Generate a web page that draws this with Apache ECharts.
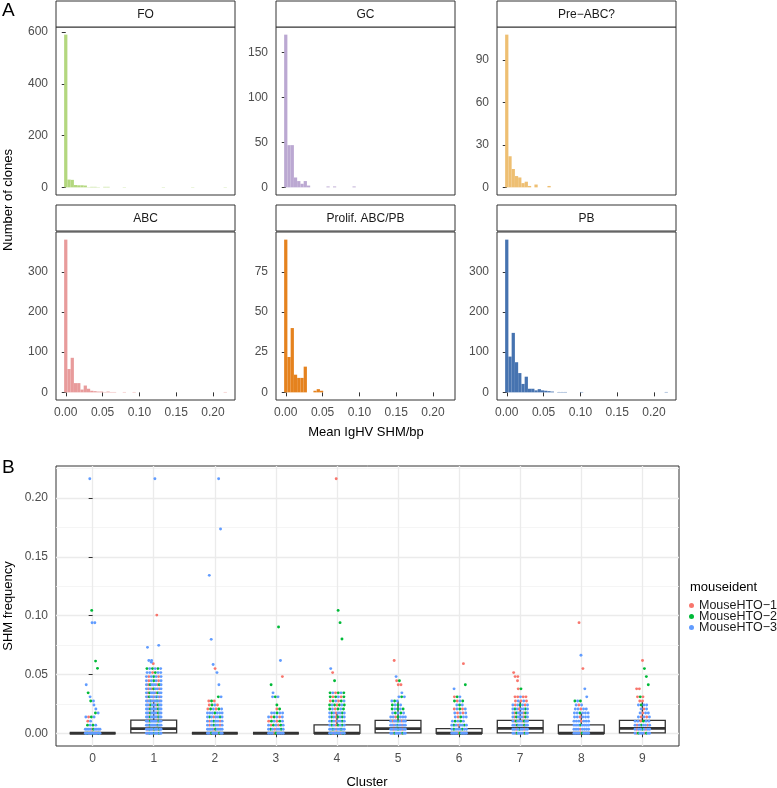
<!DOCTYPE html>
<html>
<head>
<meta charset="utf-8">
<script src="https://cdn.jsdelivr.net/npm/echarts@6/dist/echarts.min.js"></script>
<style>
html,body{margin:0;padding:0;background:#fff;}
#chart{width:777px;height:788px;}
</style>
</head>
<body>
<div id="chart"></div>
<script>
// ---------------- Panel A: histograms of mean IgHV SHM/bp ----------------
const panelNames = ['FO', 'GC', 'Pre\u2212ABC?', 'ABC', 'Prolif. ABC/PB', 'PB'];
const panelColors = ['#b3d77e', '#bba8d2', '#eebf72', '#e89b9b', '#e5821e', '#4673b0'];
const binStart = 0;
const binWidth = 0.00442;
const countsFO = [590,30,29,9,8,8,7,1,2,2, 1,0,2,2,0,0,0,0,1,0, 0,0,0,0,0,0,0,0,0,0, 1,0,0,0,0,0,0,0,0,1, 0,0,0,0,0,0,0,0,0,1];
const countsGC = [170,47,47,11,7,4,7,2,0,0, 0,0,0,1,0,1,0,0,0,0, 0,1];
const countsPreABC = [108,22,13,8,7,3,4,1,0,2, 0,0,0,1];
const countsABC = [380,58,86,23,23,7,17,9,4,3, 2,2,1,2,1,1,0,0,1,0, 0,1,0,0,0,0,0,0,0,0, 0,0,0,0,0,0,0,0,0,0, 0,0,0,0,0,0,0,0,0,1];
const countsProlif = [95,22,40,11,9,9,16,0,0,1, 2,1];
const countsPB = [380,89,148,75,48,21,39,9,9,5, 8,5,4,3,2,0,1,1,1,0, 0,0,0,1,0,0,0,0,0,0, 0,0,0,0,0,0,0,0,0,0, 0,0,0,0,0,0,0,0,0,1];
const histXTicks = [0, 0.05, 0.10, 0.15, 0.20];
const yTicksFO = [0, 200, 400, 600];
const yTicksGC = [0, 50, 100, 150];
const yTicksPreABC = [0, 30, 60, 90];
const yTicksABC = [0, 100, 200, 300];
const yTicksProlif = [0, 25, 50, 75];
const yTicksPB = [0, 100, 200, 300];

// ---------------- Panel B: SHM frequency by cluster ----------------
const clusters = [0,1,2,3,4,5,6,7,8,9];
const mouseNames = ['MouseHTO\u22121', 'MouseHTO\u22122', 'MouseHTO\u22123'];
const mouseColors = ['#F8766D', '#00BA38', '#619CFF'];
const yTicksB = [0, 0.05, 0.10, 0.15, 0.20];
const yMinorB = [0.025, 0.075, 0.125, 0.175, 0.225];
const boxLower  = [0, 0,      0, 0, 0,      0,      0,      0,      0,      0];
const boxQ1     = [0, 0.0003, 0, 0, 0,      0.0003, 0,      0.0003, 0,      0.0003];
const boxMedian = [0, 0.0040, 0, 0, 0,      0.0040, 0,      0.0042, 0,      0.0042];
const boxQ3     = [0, 0.0112, 0, 0, 0.0072, 0.0110, 0.0040, 0.0110, 0.0072, 0.0110];
const boxUpper  = [0, 0.0275, 0, 0, 0.0172, 0.0275, 0.0069, 0.0275, 0.0172, 0.0275];
// rows: [SHM frequency, n MouseHTO-1, n MouseHTO-2, n MouseHTO-3]
const cluster0 = [[0,2,3,12],[0.0034,1,1,8],[0.0069,0,2,2],[0.0103,1,0,1],[0.0138,1,1,2],[0.0172,0,1,1],[0.0206,0,0,1],[0.0241,0,0,1],[0.0275,0,1,1],[0.031,0,0,1],[0.0344,0,1,0],[0.0413,0,0,1],[0.0552,0,1,0],[0.0614,0,1,0],[0.094,0,0,2],[0.1045,0,1,0],[0.2165,0,0,1]];
const cluster1 = [[0,3,3,10],[0.0034,3,3,10],[0.0069,2,2,10],[0.0103,2,2,9],[0.0138,2,2,9],[0.0172,2,2,8],[0.0206,2,2,8],[0.0241,2,2,7],[0.0275,3,2,7],[0.031,3,2,6],[0.0344,2,2,6],[0.0378,3,1,5],[0.0413,2,2,5],[0.0447,2,1,4],[0.0482,2,1,4],[0.0516,1,1,4],[0.055,0,3,3],[0.0592,1,0,0],[0.0605,0,0,1],[0.0619,0,0,2],[0.0731,0,0,1],[0.0748,0,0,1],[0.1005,1,0,0],[0.2165,0,0,1]];
const cluster2 = [[0,2,2,8],[0.0034,1,1,8],[0.0069,2,1,5],[0.0103,2,1,5],[0.0138,1,2,5],[0.0172,0,1,6],[0.0206,2,2,2],[0.0241,2,1,1],[0.0275,2,1,0],[0.031,0,1,1],[0.0413,0,0,1],[0.0516,0,0,1],[0.055,1,0,0],[0.0585,0,0,1],[0.0799,0,0,1],[0.1343,0,0,1],[0.1737,0,0,1],[0.2165,0,0,1]];
const cluster3 = [[0,1,1,7],[0.0034,1,2,5],[0.0069,2,2,3],[0.0103,2,2,2],[0.0138,2,1,3],[0.0172,0,1,4],[0.0206,1,1,0],[0.0241,0,1,0],[0.031,0,1,2],[0.0344,0,0,1],[0.0413,0,1,0],[0.0482,1,0,0],[0.0619,0,0,1],[0.0904,0,1,0]];
const cluster4 = [[0,2,3,8],[0.0034,1,2,7],[0.0069,1,3,4],[0.0103,1,2,5],[0.0138,1,3,4],[0.0172,1,2,5],[0.0206,1,3,2],[0.0241,1,4,2],[0.0275,2,2,2],[0.031,2,3,1],[0.0344,1,3,2],[0.0447,0,1,0],[0.0516,1,0,0],[0.055,0,0,1],[0.0802,0,1,0],[0.0941,0,1,0],[0.1045,0,1,0],[0.2165,1,0,0]];
const cluster5 = [[0,2,2,8],[0.0034,2,1,8],[0.0069,2,1,7],[0.0103,2,1,6],[0.0138,1,1,5],[0.0172,0,2,3],[0.0206,0,3,2],[0.0241,0,2,2],[0.0275,0,1,2],[0.031,0,1,2],[0.0344,0,0,1],[0.0413,2,0,0],[0.0447,1,1,0],[0.0482,0,0,1],[0.0619,1,0,0]];
const cluster6 = [[0,1,1,8],[0.0034,0,2,6],[0.0069,1,2,5],[0.0103,0,2,3],[0.0138,1,1,3],[0.0172,2,0,3],[0.0206,2,1,2],[0.0241,0,1,2],[0.0275,1,2,1],[0.031,1,1,1],[0.0378,0,0,1],[0.0413,0,1,0],[0.0592,1,0,0]];
const cluster7 = [[0,2,2,8],[0.0034,2,1,7],[0.0069,2,2,7],[0.0103,2,2,6],[0.0138,2,2,5],[0.0172,2,2,5],[0.0206,1,2,5],[0.0241,2,1,4],[0.0275,3,0,2],[0.031,4,0,1],[0.0378,1,1,0],[0.0447,1,0,0],[0.0482,2,0,0],[0.0516,1,0,0]];
const cluster8 = [[0,1,1,8],[0.0034,1,0,7],[0.0069,0,1,7],[0.0103,1,0,6],[0.0138,1,0,5],[0.0172,0,1,5],[0.0206,1,0,4],[0.0241,1,0,2],[0.0275,0,2,1],[0.031,0,0,1],[0.0378,0,0,1],[0.055,1,0,0],[0.0664,0,0,1],[0.0941,1,0,0]];
const cluster9 = [[0,2,2,6],[0.0034,2,1,6],[0.0069,2,1,5],[0.0103,1,1,4],[0.0138,2,0,3],[0.0172,1,0,3],[0.0206,1,0,2],[0.0241,0,1,3],[0.0275,2,0,0],[0.031,2,1,0],[0.0378,2,0,0],[0.0413,0,1,0],[0.0482,0,1,0],[0.055,0,1,0],[0.0619,1,0,0]];

// ---------------- build ----------------
const FONT = '"Liberation Sans", Arial, Helvetica, sans-serif';
const TICK_COLOR = '#4d4d4d';
const LINE_COLOR = '#333333';
const allCounts = [countsFO, countsGC, countsPreABC, countsABC, countsProlif, countsPB];
const allYTicks = [yTicksFO, yTicksGC, yTicksPreABC, yTicksABC, yTicksProlif, yTicksPB];
const colLeft = [56, 276, 497];
const rowTop = [27, 232];
const stripTop = [1, 205];
const PW = 179, PH = 168, STRIP_H = 26;

const grids = [], xAxes = [], yAxes = [], series = [], graphics = [];
for (let i = 0; i < 6; i++) {
  const r = Math.floor(i / 3), c = i % 3;
  const bottom = r === 1;
  grids.push({left: colLeft[c], top: rowTop[r], width: PW, height: PH, show: true,
    borderColor: LINE_COLOR, borderWidth: 1, backgroundColor: '#fff'});
  const xs = allCounts[i].map((n, k) => binStart + k * binWidth);
  const xmin = binStart - binWidth / 2, xmax = 49 * binWidth + binWidth / 2;
  const xpad = (xmax - xmin) * 0.05;
  xAxes.push({type: 'value', gridIndex: i, min: xmin - xpad, max: xmax + xpad,
    axisLine: {show: false}, splitLine: {show: false},
    axisTick: {show: bottom, customValues: histXTicks, length: 4, lineStyle: {color: LINE_COLOR}},
    axisLabel: {show: bottom, customValues: histXTicks, formatter: v => v.toFixed(2), margin: 7,
      fontSize: 12, color: TICK_COLOR, fontFamily: FONT}});
  const maxC = Math.max(...allCounts[i]);
  yAxes.push({type: 'value', gridIndex: i, min: -0.05 * maxC, max: 1.05 * maxC,
    axisLine: {show: false}, splitLine: {show: false},
    axisTick: {show: true, customValues: allYTicks[i], length: 4, lineStyle: {color: LINE_COLOR}},
    axisLabel: {show: true, customValues: allYTicks[i], margin: 8, fontSize: 12, color: TICK_COLOR, fontFamily: FONT}});
  const color = panelColors[i];
  series.push({type: 'custom', xAxisIndex: i, yAxisIndex: i, silent: true,
    data: allCounts[i].map((n, k) => [xs[k], n]),
    renderItem: function (params, api) {
      const x = api.value(0), n = api.value(1);
      if (!n) return null;
      const p0 = api.coord([x - binWidth / 2, n]);
      const p1 = api.coord([x + binWidth / 2, 0]);
      return {type: 'rect', shape: {x: p0[0], y: p0[1], width: p1[0] - p0[0], height: p1[1] - p0[1]},
        style: {fill: color}};
    }});
  graphics.push({type: 'rect', shape: {x: colLeft[c], y: stripTop[r], width: PW, height: STRIP_H},
    style: {fill: '#fff', stroke: LINE_COLOR, lineWidth: 1}});
  graphics.push({type: 'text', x: colLeft[c] + PW / 2, y: stripTop[r] + STRIP_H / 2 + 0.5,
    style: {text: panelNames[i], align: 'center', verticalAlign: 'middle', fontSize: 12, fill: '#1a1a1a', fontFamily: FONT}});
}

// panel B
const BG = 6;
grids.push({left: 56, top: 466, width: 623, height: 280, show: true, borderColor: LINE_COLOR, borderWidth: 1, backgroundColor: '#fff'});
xAxes.push({type: 'value', gridIndex: BG, min: -0.6, max: 9.6,
  axisLine: {show: false},
  splitLine: {show: true, lineStyle: {color: '#ebebeb', width: 1.3}},
  axisTick: {show: true, customValues: clusters, length: 4, lineStyle: {color: LINE_COLOR}},
  axisLabel: {show: true, customValues: clusters, formatter: v => String(v), margin: 7, fontSize: 12, color: TICK_COLOR, fontFamily: FONT}});
const clusterRows = [cluster0, cluster1, cluster2, cluster3, cluster4, cluster5, cluster6, cluster7, cluster8, cluster9];
let maxShm = 0;
clusterRows.forEach(rows => rows.forEach(r => { if (r[0] > maxShm) maxShm = r[0]; }));
const ypad = maxShm * 0.05;
yAxes.push({type: 'value', gridIndex: BG, min: -ypad, max: maxShm + ypad,
  axisLine: {show: false},
  splitLine: {show: true, lineStyle: {color: '#ebebeb', width: 1.3}},
  axisTick: {show: true, customValues: yTicksB, length: 4, lineStyle: {color: LINE_COLOR}},
  axisLabel: {show: true, customValues: yTicksB, formatter: v => v.toFixed(2), margin: 8, fontSize: 12, color: TICK_COLOR, fontFamily: FONT}});
yAxes.push({type: 'value', gridIndex: BG, min: -ypad, max: maxShm + ypad, position: 'left',
  axisLine: {show: false},
  splitLine: {show: true, lineStyle: {color: '#f2f2f2', width: 0.8}},
  axisTick: {show: false, customValues: yMinorB},
  axisLabel: {show: false, customValues: yMinorB}});

// boxes
series.push({type: 'custom', xAxisIndex: BG, yAxisIndex: BG, silent: true, z: 2,
  data: clusters.map((c, i) => [c, boxLower[i], boxQ1[i], boxMedian[i], boxQ3[i], boxUpper[i]]),
  renderItem: function (params, api) {
    const x = api.value(0);
    const pLo = api.coord([x, api.value(1)]), pQ1 = api.coord([x, api.value(2)]);
    const pMd = api.coord([x, api.value(3)]), pQ3 = api.coord([x, api.value(4)]);
    const pHi = api.coord([x, api.value(5)]);
    const hw = api.size([0.75, 0])[0] / 2;
    const ls = {stroke: LINE_COLOR, lineWidth: 1.2};
    return {type: 'group', children: [
      {type: 'line', shape: {x1: pQ3[0], y1: pQ3[1], x2: pHi[0], y2: pHi[1]}, style: ls},
      {type: 'line', shape: {x1: pLo[0], y1: pLo[1], x2: pQ1[0], y2: pQ1[1]}, style: ls},
      {type: 'rect', shape: {x: pQ3[0] - hw, y: pQ3[1], width: 2 * hw, height: pQ1[1] - pQ3[1]},
        style: {fill: '#fff', stroke: LINE_COLOR, lineWidth: 1.3}},
      {type: 'line', shape: {x1: pMd[0] - hw, y1: pMd[1], x2: pMd[0] + hw, y2: pMd[1]},
        style: {stroke: LINE_COLOR, lineWidth: 2.8}}
    ]};
  }});

// jittered points (deterministic spread within each SHM level)
const JITTER = 0.12;
const pts = [[], [], []];
clusterRows.forEach((rows, c) => {
  rows.forEach((row, ri) => {
    const v = row[0];
    const items = [];
    for (let m = 0; m < 3; m++) {
      const n = row[m + 1];
      for (let k = 0; k < n; k++) items.push({m: m, key: (k + 0.5) / n + m * 0.013});
    }
    items.sort((a, b) => a.key - b.key);
    const n = items.length;
    const step = n > 1 ? Math.min(2 * JITTER / (n - 1), 0.045) : 0;
    const half = step * (n - 1) / 2;
    const g = ((c * 7 + ri * 3 + 1) * 0.6180339) % 1;
    const shift = (2 * g - 1) * (JITTER - half) * 0.9;
    items.forEach((it, j) => pts[it.m].push([c + shift - half + j * step, v]));
  });
});
for (let m = 0; m < 3; m++) {
  series.push({type: 'scatter', name: mouseNames[m], xAxisIndex: BG, yAxisIndex: BG, z: 3,
    symbol: 'circle', symbolSize: 2.9, silent: true,
    itemStyle: {color: mouseColors[m], opacity: 1},
    data: pts[m]});
}

// texts
graphics.push({type: 'text', x: 2, y: 11, style: {text: 'A', fontSize: 19, fill: '#000', fontFamily: FONT, verticalAlign: 'middle'}});
graphics.push({type: 'text', x: 2, y: 468, style: {text: 'B', fontSize: 19, fill: '#000', fontFamily: FONT, verticalAlign: 'middle'}});
graphics.push({type: 'text', x: 8, y: 200, rotation: Math.PI / 2,
  style: {text: 'Number of clones', align: 'center', verticalAlign: 'middle', fontSize: 13, fill: '#000', fontFamily: FONT}});
graphics.push({type: 'text', x: 366, y: 432,
  style: {text: 'Mean IgHV SHM/bp', align: 'center', verticalAlign: 'middle', fontSize: 13, fill: '#000', fontFamily: FONT}});
graphics.push({type: 'text', x: 8, y: 606, rotation: Math.PI / 2,
  style: {text: 'SHM frequency', align: 'center', verticalAlign: 'middle', fontSize: 13, fill: '#000', fontFamily: FONT}});
graphics.push({type: 'text', x: 367, y: 782,
  style: {text: 'Cluster', align: 'center', verticalAlign: 'middle', fontSize: 13, fill: '#000', fontFamily: FONT}});
graphics.push({type: 'text', x: 690, y: 587,
  style: {text: 'mouseident', align: 'left', verticalAlign: 'middle', fontSize: 13, fill: '#000', fontFamily: FONT}});

const chart = echarts.init(document.getElementById('chart'), null, {renderer: 'canvas'});
chart.setOption({
  animation: false,
  backgroundColor: '#fff',
  textStyle: {fontFamily: FONT},
  grid: grids,
  xAxis: xAxes,
  yAxis: yAxes,
  legend: {data: mouseNames, orient: 'vertical', left: 689, top: 599, padding: 0,
    itemWidth: 5, itemHeight: 5, itemGap: -2, icon: 'circle', selectedMode: false,
    textStyle: {fontSize: 12.5, color: '#1a1a1a', fontFamily: FONT, lineHeight: 11}},
  graphic: graphics,
  series: series
});
</script>
</body>
</html>
